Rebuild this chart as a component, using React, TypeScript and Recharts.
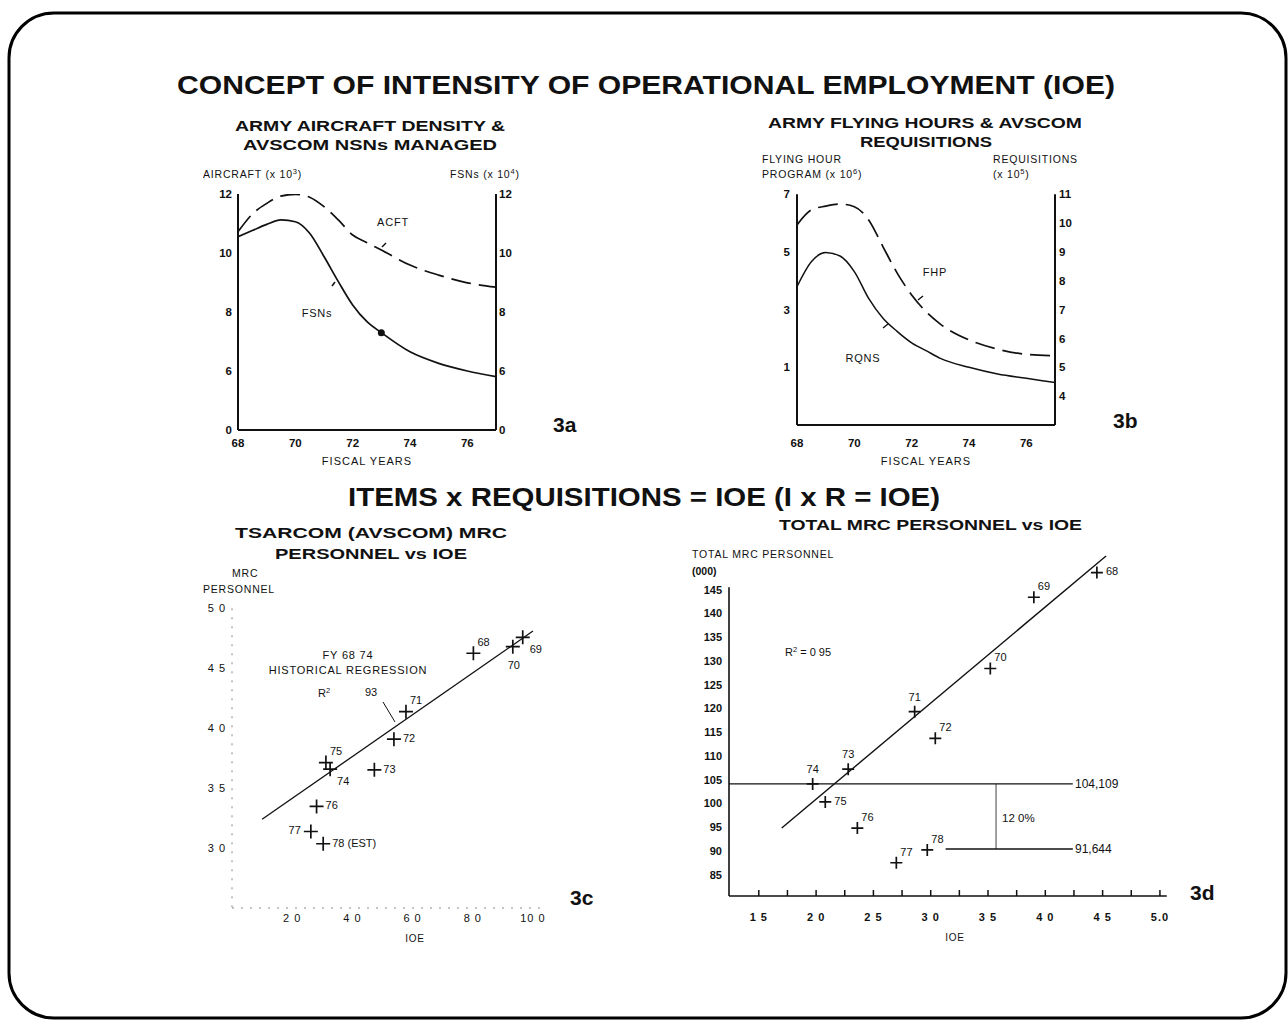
import React from 'react';
import { LineChart, Line, XAxis, YAxis, ScatterChart, Scatter, ReferenceLine, ReferenceDot } from 'recharts';

const FONT = '"Liberation Sans", Arial, Helvetica, sans-serif';
const INK = '#111';

// ---------- 3a: aircraft density & NSNs ----------
const yearsA = [68, 68.5, 69, 69.5, 70, 70.5, 71, 71.5, 72, 72.5, 73, 74, 75, 76, 77];
const aircraft = [10.72, 11.32, 11.68, 11.93, 11.99, 11.89, 11.57, 11.12, 10.61, 10.35, 10.1, 9.59, 9.25, 8.99, 8.84];
const fsns = [10.55, 10.76, 10.97, 11.12, 11.06, 10.67, 9.88, 9.03, 8.24, 7.67, 7.3, 6.65, 6.26, 6.0, 5.81];
const ticksA = [4, 6, 8, 10, 12];
const tickLabelsA = ['0', '6', '8', '10', '12'];
const yearTicks = [68, 70, 72, 74, 76];

// ---------- 3b: flying hours & requisitions ----------
const yearsB = [68, 68.5, 69, 69.5, 70, 70.5, 71, 71.5, 72, 72.5, 73, 74, 75, 76, 77];
const flyingHours = [5.94, 6.46, 6.59, 6.66, 6.57, 6.11, 5.18, 4.26, 3.51, 2.93, 2.5, 1.95, 1.63, 1.45, 1.4];
const requisitions = [7.8, 8.66, 8.98, 8.86, 8.32, 7.39, 6.7, 6.24, 5.85, 5.58, 5.31, 5.0, 4.77, 4.62, 4.47];
const ticksBLeft = [1, 3, 5, 7];
const ticksBRight = [4, 5, 6, 7, 8, 9, 10, 11];

// ---------- 3c: TSARCOM MRC personnel vs IOE ----------
const labelsC = ['68', '69', '70', '71', '72', '73', '74', '75', '76', '77', '78 (EST)'];
const ioeC = [8.02, 9.66, 9.33, 5.78, 5.38, 4.73, 3.26, 3.12, 2.81, 2.62, 3.03];
const mrcC = [46.25, 47.58, 46.8, 41.38, 39.08, 36.53, 36.58, 37.13, 33.47, 31.38, 30.36];
const placeC = ['ne', 'se', 's', 'ne', 'e', 'e', 'se', 'ne', 'e', 'w', 'e'];
const regressionC = [{ x: 1.0, y: 32.4 }, { x: 10.0, y: 48.1 }];
const ticksCX = [2, 4, 6, 8, 10];
const tickLabelsCX = ['2 0', '4 0', '6 0', '8 0', '10 0'];
const ticksCY = [30, 35, 40, 45, 50];
const tickLabelsCY = ['3 0', '3 5', '4 0', '4 5', '5 0'];

// ---------- 3d: total MRC personnel vs IOE ----------
const labelsD = ['68', '69', '70', '71', '72', '73', '74', '75', '76', '77', '78'];
const ioeD = [4.45, 3.9, 3.52, 2.86, 3.04, 2.28, 1.97, 2.08, 2.36, 2.7, 2.97];
const mrcD = [148.6, 143.4, 128.4, 119.3, 113.7, 107.2, 104.1, 100.3, 94.8, 87.5, 90.2];
const placeD = ['e', 'ne', 'ne', 'n', 'ne', 'n', 'n', 'e', 'ne', 'ne', 'ne'];
const regressionD = [{ x: 1.7, y: 94.8 }, { x: 4.53, y: 152.1 }];
const levelHigh = 104.109;
const levelLow = 90.4;
const levelHighLabel = '104,109';
const levelLowLabel = '91,644';
const ticksDX = [1.5, 1.75, 2, 2.25, 2.5, 2.75, 3, 3.25, 3.5, 3.75, 4, 4.25, 4.5, 4.75, 5];
const majorDX = [1.5, 2, 2.5, 3, 3.5, 4, 4.5, 5];
const tickLabelsDX = ['1 5', '2 0', '2 5', '3 0', '3 5', '4 0', '4 5', '5.0'];
const ticksDY = [85, 90, 95, 100, 105, 110, 115, 120, 125, 130, 135, 140, 145];

const dataA = yearsA.map((y, i) => ({ year: y, acft: aircraft[i], fsn: fsns[i] }));
const dataB = yearsB.map((y, i) => ({ year: y, fhp: flyingHours[i], rqns: requisitions[i] }));
const dataC = ioeC.map((x, i) => ({ x, y: mrcC[i], label: labelsC[i], place: placeC[i] }));
const dataD = ioeD.map((x, i) => ({ x, y: mrcD[i], label: labelsD[i], place: placeD[i] }));

const OFFS: Record<string, [number, number, string]> = {
  n: [0, -15, 'middle'],
  ne: [4, -11, 'start'],
  e: [9, -1, 'start'],
  se: [7, 12, 'start'],
  s: [1, 18, 'middle'],
  w: [-10, -1, 'end'],
};

function makeCross(size: number, fontSize: number) {
  return (props: any) => {
    const { cx, cy, payload } = props;
    const [dx, dy, anchor] = OFFS[payload.place];
    return (
      <g>
        <path d={`M${cx - size},${cy}H${cx + size}M${cx},${cy - size}V${cy + size}`} stroke={INK} strokeWidth={1.7} fill="none" />
        <text x={cx + dx} y={cy + dy} dy="0.35em" textAnchor={anchor as any} fontSize={fontSize} fontFamily={FONT} fill={INK}>
          {payload.label}
        </text>
      </g>
    );
  };
}

function TickD(props: any) {
  const { x, y, payload } = props;
  const idx = majorDX.indexOf(payload.value);
  return (
    <g>
      <line x1={x} x2={x} y1={y} y2={y - 6} stroke={INK} strokeWidth={1.5} />
      {idx >= 0 && (
        <text x={x} y={y + 21} dy="0.35em" textAnchor="middle" fontSize={11} fontWeight="bold" fontFamily={FONT} fill={INK} letterSpacing={1}>
          {tickLabelsDX[idx]}
        </text>
      )}
    </g>
  );
}

function T(p: { x: number; y: number; children: any; size?: number; bold?: boolean; anchor?: string; len?: number; ls?: number }) {
  return (
    <text
      x={p.x}
      y={p.y}
      fontSize={p.size ?? 11}
      fontWeight={p.bold ? 'bold' : 'normal'}
      textAnchor={(p.anchor ?? 'start') as any}
      fontFamily={FONT}
      fill={INK}
      textLength={p.len}
      lengthAdjust={p.len ? 'spacingAndGlyphs' : undefined}
      letterSpacing={p.ls}
    >
      {p.children}
    </text>
  );
}

function Sup({ base, sup, tail }: { base: string; sup: string; tail: string }) {
  return (
    <>
      <tspan>{base}</tspan>
      <tspan dy={-4} fontSize={7.5}>{sup}</tspan>
      <tspan dy={4}>{tail}</tspan>
    </>
  );
}

const tickBold = { fontSize: 11.5, fontWeight: 'bold', fill: INK, fontFamily: FONT };
const tickBoldD = { fontSize: 11, fontWeight: 'bold', fill: INK, fontFamily: FONT };
const tickPlain = { fontSize: 11, fill: INK, fontFamily: FONT, letterSpacing: 1 };
const axisThick = { stroke: INK, strokeWidth: 2 };

export default function App() {
  return (
    <div style={{ position: 'absolute', left: 0, top: 0, width: 1288, height: 1021, background: '#fff', overflow: 'hidden' }}>
      <svg width={1288} height={1021} style={{ position: 'absolute', left: 0, top: 0 }}>
        <rect x={9} y={13} width={1277} height={1005} rx={45} ry={45} fill="none" stroke="#000" strokeWidth={3} />
        <T x={177} y={94} size={25.5} bold len={938}>CONCEPT OF INTENSITY OF OPERATIONAL EMPLOYMENT (IOE)</T>

        {/* 3a texts */}
        <T x={235} y={131} size={15} bold len={270}>ARMY AIRCRAFT DENSITY &amp;</T>
        <T x={243} y={150} size={15} bold len={254}>AVSCOM NSNs MANAGED</T>
        <T x={203} y={178} size={10.5} ls={0.8}><Sup base="AIRCRAFT (x 10" sup="3" tail=")" /></T>
        <T x={450} y={178} size={10.5} ls={0.8}><Sup base="FSNs (x 10" sup="4" tail=")" /></T>
        <T x={393} y={226} size={11} anchor="middle" ls={0.8}>ACFT</T>
        <T x={317} y={317} size={11} anchor="middle" ls={0.8}>FSNs</T>
        <line x1={382} y1={247} x2={386} y2={243} stroke={INK} strokeWidth={1.5} />
        <line x1={332} y1={286} x2={335} y2={282} stroke={INK} strokeWidth={1.5} />
        <T x={367} y={465} size={11} anchor="middle" ls={1}>FISCAL YEARS</T>
        <T x={553} y={432} size={21} bold>3a</T>

        {/* 3b texts */}
        <T x={768} y={128} size={15} bold len={314}>ARMY FLYING HOURS &amp; AVSCOM</T>
        <T x={860} y={147} size={15} bold len={132}>REQUISITIONS</T>
        <T x={762} y={163} size={10.5} ls={0.8}>FLYING HOUR</T>
        <T x={762} y={178} size={10.5} ls={0.8}><Sup base="PROGRAM (x 10" sup="6" tail=")" /></T>
        <T x={993} y={163} size={10.5} ls={0.8}>REQUISITIONS</T>
        <T x={993} y={178} size={10.5} ls={0.8}><Sup base="(x 10" sup="5" tail=")" /></T>
        <T x={935} y={276} size={11} anchor="middle" ls={0.8}>FHP</T>
        <T x={863} y={362} size={11} anchor="middle" ls={0.8}>RQNS</T>
        <line x1={918} y1={300} x2={923} y2={296} stroke={INK} strokeWidth={1.5} />
        <line x1={883} y1={328} x2={888} y2={324} stroke={INK} strokeWidth={1.5} />
        <T x={926} y={465} size={11} anchor="middle" ls={1}>FISCAL YEARS</T>
        <T x={1113} y={428} size={21} bold>3b</T>

        <T x={348} y={506} size={26} bold len={592}>ITEMS x REQUISITIONS = IOE (I x R = IOE)</T>

        {/* 3c texts */}
        <T x={235} y={538} size={15} bold len={272}>TSARCOM (AVSCOM) MRC</T>
        <T x={275} y={559} size={15} bold len={192}>PERSONNEL vs IOE</T>
        <T x={232} y={577} size={10.5} ls={0.8}>MRC</T>
        <T x={203} y={593} size={10.5} ls={0.8}>PERSONNEL</T>
        <T x={348} y={659} size={11} anchor="middle" ls={0.8}>FY 68 74</T>
        <T x={348} y={674} size={11} anchor="middle" ls={0.8}>HISTORICAL REGRESSION</T>
        <T x={318} y={697} size={11}><Sup base="R" sup="2" tail="" /></T>
        <T x={365} y={696} size={11}>93</T>
        <line x1={383} y1={702} x2={395} y2={722} stroke={INK} strokeWidth={1} />
        <T x={415} y={942} size={10} anchor="middle" ls={0.8}>IOE</T>
        <T x={570} y={905} size={21} bold>3c</T>

        {/* 3d texts */}
        <T x={779} y={530} size={15} bold len={303}>TOTAL MRC PERSONNEL vs IOE</T>
        <T x={692} y={558} size={10.5} ls={0.8}>TOTAL MRC PERSONNEL</T>
        <T x={692} y={575} size={10.5} bold>(000)</T>
        <T x={785} y={656} size={11}><Sup base="R" sup="2" tail=" = 0 95" /></T>
        <T x={1002} y={822} size={11.5}>12 0%</T>
        <T x={1075} y={788} size={12}>{levelHighLabel}</T>
        <T x={1075} y={853} size={12}>{levelLowLabel}</T>
        <T x={955} y={941} size={10} anchor="middle" ls={0.8}>IOE</T>
        <T x={1190} y={900} size={21} bold>3d</T>
      </svg>

      {/* 3a chart */}
      <div style={{ position: 'absolute', left: 160, top: 160 }}>
        <LineChart width={400} height={320} data={dataA} margin={{ top: 34, right: 24, bottom: 10, left: 18 }}>
          <XAxis dataKey="year" type="number" domain={[68, 77]} ticks={yearTicks} height={40} tickLine={false} tickSize={0} tickMargin={9} axisLine={axisThick} tick={tickBold} allowDataOverflow />
          <YAxis yAxisId="l" type="number" domain={[4, 12]} ticks={ticksA} width={60} tickLine={false} tickSize={0} tickMargin={6} axisLine={axisThick} tick={tickBold} tickFormatter={(v: number) => tickLabelsA[ticksA.indexOf(v)]} allowDataOverflow />
          <YAxis yAxisId="r" orientation="right" type="number" domain={[4, 12]} ticks={ticksA} width={40} tickLine={false} tickSize={0} tickMargin={3} axisLine={axisThick} tick={tickBold} tickFormatter={(v: number) => tickLabelsA[ticksA.indexOf(v)]} allowDataOverflow />
          <Line yAxisId="l" dataKey="acft" type="monotone" stroke={INK} strokeWidth={1.7} strokeDasharray="20 8" dot={false} isAnimationActive={false} />
          <Line yAxisId="r" dataKey="fsn" type="monotone" stroke={INK} strokeWidth={1.7} dot={false} isAnimationActive={false} />
          <ReferenceDot yAxisId="r" x={yearsA[10]} y={fsns[10]} r={3.5} fill={INK} stroke="none" />
        </LineChart>
      </div>

      {/* 3b chart */}
      <div style={{ position: 'absolute', left: 720, top: 160 }}>
        <LineChart width={400} height={320} data={dataB} margin={{ top: 34.3, right: 25, bottom: 15, left: 17 }}>
          <XAxis dataKey="year" type="number" domain={[68, 77]} ticks={yearTicks} height={40} tickLine={false} tickSize={0} tickMargin={14} axisLine={axisThick} tick={tickBold} allowDataOverflow />
          <YAxis yAxisId="l" type="number" domain={[-1, 7]} ticks={ticksBLeft} width={60} tickLine={false} tickSize={0} tickMargin={7} axisLine={axisThick} tick={tickBold} allowDataOverflow />
          <YAxis yAxisId="r" orientation="right" type="number" domain={[3, 11]} ticks={ticksBRight} width={40} tickLine={false} tickSize={0} tickMargin={4} axisLine={axisThick} tick={tickBold} allowDataOverflow />
          <Line yAxisId="l" dataKey="fhp" type="monotone" stroke={INK} strokeWidth={1.7} strokeDasharray="20 8" dot={false} isAnimationActive={false} />
          <Line yAxisId="r" dataKey="rqns" type="monotone" stroke={INK} strokeWidth={1.5} dot={false} isAnimationActive={false} />
        </LineChart>
      </div>

      {/* 3c chart */}
      <div style={{ position: 'absolute', left: 150, top: 580 }}>
        <ScatterChart width={400} height={370} margin={{ top: 28.3, right: 8, bottom: 12, left: 22 }}>
          <XAxis dataKey="x" type="number" domain={[0, 10.3]} ticks={ticksCX} height={30} tickLine={false} tickSize={0} tickMargin={6} axisLine={{ stroke: '#888', strokeDasharray: '2 7' }} tick={tickPlain} tickFormatter={(v: number) => tickLabelsCX[ticksCX.indexOf(v)]} allowDataOverflow />
          <YAxis dataKey="y" type="number" domain={[25, 50]} ticks={ticksCY} width={60} tickLine={false} tickSize={0} tickMargin={6} axisLine={{ stroke: '#888', strokeDasharray: '2 7' }} tick={tickPlain} tickFormatter={(v: number) => tickLabelsCY[ticksCY.indexOf(v)]} allowDataOverflow />
          <ReferenceLine segment={regressionC} stroke={INK} strokeWidth={1.3} ifOverflow="visible" />
          <Scatter data={dataC} shape={makeCross(7, 11)} isAnimationActive={false} />
        </ScatterChart>
      </div>

      {/* 3d chart */}
      <div style={{ position: 'absolute', left: 640, top: 520 }}>
        <ScatterChart width={540} height={420} margin={{ top: 36.4, right: 13.2, bottom: 14, left: 29 }}>
          <XAxis dataKey="x" type="number" domain={[1.24, 5.06]} ticks={ticksDX} height={30} tickLine={false} tickSize={0} tickMargin={0} axisLine={{ stroke: INK, strokeWidth: 1.6 }} tick={<TickD />} interval={0} allowDataOverflow />
          <YAxis dataKey="y" type="number" domain={[80.5, 152]} ticks={ticksDY} width={60} tickLine={false} tickSize={0} tickMargin={7} axisLine={false} tick={tickBoldD} interval={0} allowDataOverflow />
          <ReferenceLine segment={[{ x: 1.24, y: 80.5 }, { x: 1.24, y: 145.5 }]} stroke={INK} strokeWidth={1.6} ifOverflow="visible" />
          <ReferenceLine segment={regressionD} stroke={INK} strokeWidth={1.4} ifOverflow="visible" />
          <ReferenceLine segment={[{ x: 1.24, y: levelHigh }, { x: 4.24, y: levelHigh }]} stroke={INK} strokeWidth={1.4} ifOverflow="visible" />
          <ReferenceLine segment={[{ x: 3.13, y: levelLow }, { x: 4.24, y: levelLow }]} stroke={INK} strokeWidth={1.4} ifOverflow="visible" />
          <ReferenceLine segment={[{ x: 3.57, y: levelLow }, { x: 3.57, y: levelHigh }]} stroke={INK} strokeWidth={0.8} ifOverflow="visible" />
          <Scatter data={dataD} shape={makeCross(6, 11)} isAnimationActive={false} />
        </ScatterChart>
      </div>
    </div>
  );
}
